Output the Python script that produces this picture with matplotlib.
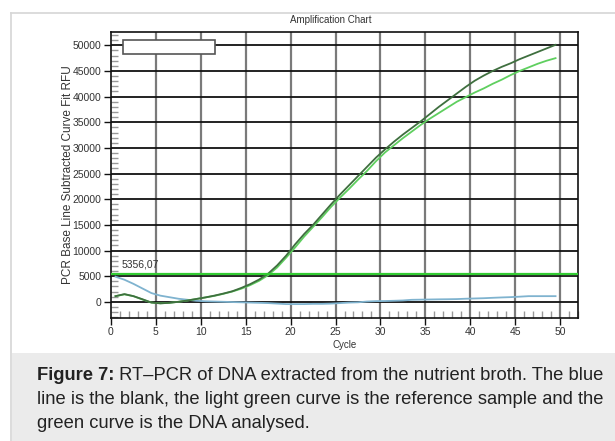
import matplotlib
matplotlib.use("Agg")
import matplotlib.pyplot as plt
from matplotlib.patches import Rectangle
from matplotlib.lines import Line2D
from matplotlib.ticker import MultipleLocator

plt.rcParams['font.family'] = ['Liberation Sans', 'DejaVu Sans']

# ---- data ----
cycles = [c - 0.5 for c in range(1, 51)]

dna_analysed = [1100, 1500, 1100, 500, -150, -300, -200, 0, 250, 550,
                850, 1200, 1600, 2050, 2700, 3450, 4350, 5500, 7100, 9000,
                11200, 13200, 15000, 17000, 19000, 20900, 22700, 24500, 26300, 28100,
                29700, 31200, 32600, 33900, 35200, 36600, 38000, 39300, 40600, 41900,
                43100, 44100, 45000, 45800, 46500, 47300, 48000, 48700, 49400, 50100]

reference = [1100, 1450, 1100, 450, -150, -300, -200, 0, 250, 550,
             850, 1150, 1550, 2000, 2550, 3250, 4100, 5200, 6700, 8600,
             10600, 12700, 14600, 16500, 18500, 20300, 22000, 23800, 25500, 27400,
             29100, 30500, 31900, 33200, 34500, 35700, 36800, 37900, 39000, 39900,
             40800, 41600, 42500, 43300, 44200, 45000, 45700, 46400, 47000, 47500]

blank = [4900, 4300, 3500, 2600, 1700, 1200, 900, 600, 400, 200,
         100, 50, 0, -50, -100, -150, -200, -250, -350, -450,
         -450, -450, -400, -400, -350, -250, -150, -100, 50, 130,
         150, 200, 260, 390, 420, 450, 480, 500, 530, 600,
         650, 700, 780, 850, 910, 1000, 1100, 1100, 1100, 1100]

threshold = 5356.07
threshold_label = "5356,07"
x_ticks = list(range(0, 51, 5))
y_ticks = list(range(0, 50001, 5000))

title = "Amplification Chart"
xlabel = "Cycle"
ylabel = "PCR Base Line Subtracted Curve Fit RFU"
caption_bold = "Figure 7:"
caption_lines = [" RT\u2013PCR of DNA extracted from the nutrient broth. The blue",
                 "line is the blank, the light green curve is the reference sample and the",
                 "green curve is the DNA analysed."]

# ---- figure ----
W, H = 615, 441
fig = plt.figure(figsize=(W / 100, H / 100), dpi=100)
fig.patch.set_facecolor('white')

# caption background & frame lines
fig.patches.append(Rectangle((12 / W, 0), 1 - 12 / W, (H - 353) / H,
                             transform=fig.transFigure, facecolor='#ebebeb',
                             edgecolor='none', zorder=0))
fig.lines.append(Line2D([11 / W, 11 / W], [0, 1 - 13 / H], transform=fig.transFigure,
                        color='#d6d6d6', lw=1.2))
fig.lines.append(Line2D([11 / W, 1], [1 - 13 / H, 1 - 13 / H], transform=fig.transFigure,
                        color='#d6d6d6', lw=1.2))

left, right = 111 / W, 578 / W
top, bottom = 1 - 32 / H, 1 - 317.7 / H
ax = fig.add_axes([left, bottom, right - left, top - bottom])
ax.set_xlim(0, 52)
ax.set_ylim(-3100, 52600)

# grid
for x in x_ticks[1:]:
    ax.axvline(x, color='#7a7a7a', lw=1.6, zorder=1)
for y in y_ticks:
    ax.axhline(y, color='#111111', lw=1.3, zorder=1)

# curves
ax.plot(cycles, blank, color='#7fb3cf', lw=1.3, zorder=3)
ax.plot(cycles, reference, color='#5fcf5f', lw=1.3, zorder=4)
ax.plot(cycles, dna_analysed, color='#3f6f3f', lw=1.3, zorder=5)

# threshold
ax.axhline(threshold, color='#33cc33', lw=1.6, zorder=6)
ax.text(1.2, threshold + 1000, threshold_label, fontsize=7.5, color='#333333',
        ha='left', va='bottom', zorder=7)

# legend placeholder box
ax.add_patch(Rectangle((0.025, 0.923), 0.198, 0.048, transform=ax.transAxes,
                       facecolor='white', edgecolor='#555555', lw=1.2, zorder=8))

# ticks
ax.set_xticks(x_ticks)
ax.set_yticks(y_ticks)
ax.xaxis.set_minor_locator(MultipleLocator(1))
ax.yaxis.set_minor_locator(MultipleLocator(1000))
ax.tick_params(axis='both', which='major', direction='out', length=5, width=1,
               color='#111111', labelsize=7.5, labelcolor='#333333', pad=2)
ax.tick_params(axis='x', which='minor', direction='in', length=5, width=1,
               color='#999999', bottom=True)
ax.tick_params(axis='y', which='minor', direction='in', length=5, width=1,
               color='#999999', left=True)
for s in ax.spines.values():
    s.set_color('#111111')
    s.set_linewidth(1.2)

# labels
fig.text(331 / W, 1 - 20 / H, title, fontsize=7, color='#333333', ha='center', va='center')
fig.text(345 / W, 1 - 345 / H, xlabel, fontsize=7, color='#333333', ha='center', va='center')
fig.text(68 / W, 1 - 175 / H, ylabel, fontsize=8.5, color='#333333', ha='center',
         va='center', rotation=90)

# caption
x0 = 37 / W
fs = 13.2
t = fig.text(x0, 1 - 376 / H, caption_bold, fontsize=fs, fontweight='bold',
             color='#222222', ha='left', va='center')
fig.canvas.draw()
bb = t.get_window_extent()
fig.text(bb.x1 / W, 1 - 376 / H, caption_lines[0], fontsize=fs, color='#222222',
         ha='left', va='center')
fig.text(x0, 1 - 400 / H, caption_lines[1], fontsize=fs, color='#222222',
         ha='left', va='center')
fig.text(x0, 1 - 424 / H, caption_lines[2], fontsize=fs, color='#222222',
         ha='left', va='center')

fig.savefig('out.png', dpi=100)
